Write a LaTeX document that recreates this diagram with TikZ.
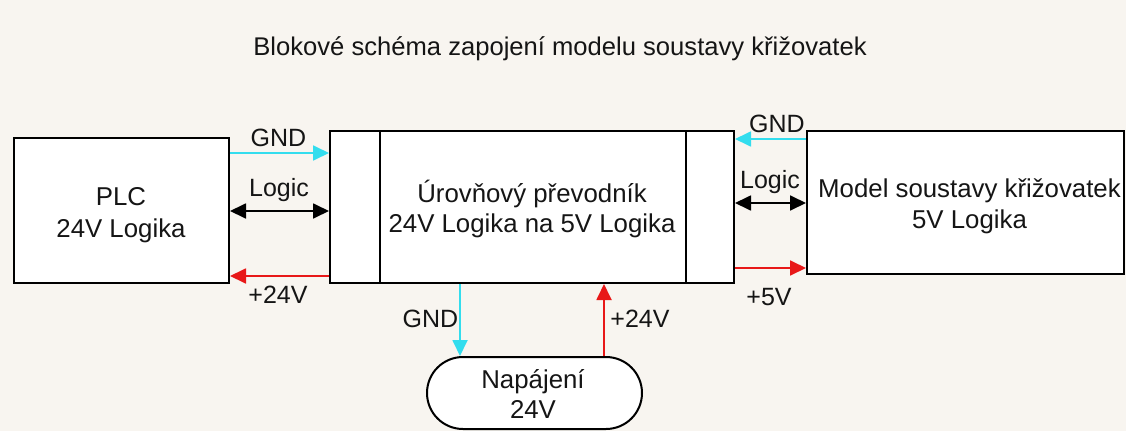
\documentclass[tikz,border=0pt]{standalone}
\usepackage{fontspec}
\setmainfont{Liberation Sans}
\usetikzlibrary{arrows.meta,shapes.misc}

\definecolor{bg}{HTML}{F8F5F0}
\definecolor{gndc}{HTML}{33DDEE}
\definecolor{pwrc}{HTML}{E81818}
\definecolor{txt}{HTML}{151515}

\begin{document}
\begin{tikzpicture}[x=1pt,y=-1pt,
  box/.style={draw=black, line width=2pt, fill=white, inner sep=0pt},
  lbl/.style={anchor=base, font=\fontsize{25}{30}\selectfont, text=txt, inner sep=0pt},
  btxt/.style={lbl, font=\fontsize{25.8}{30}\selectfont},
  wire/.style={line width=1.8pt},
  tipend/.style={-{Triangle[length=16pt,width=15pt]}},
  tipboth/.style={{Triangle[length=16pt,width=15pt]}-{Triangle[length=16pt,width=15pt]}}]

\fill[bg] (0,0) rectangle (1126,431);
\useasboundingbox (0,0) rectangle (1126,431);

% title
\node[lbl, font=\fontsize{25.6}{30}\selectfont] (title) at (560,55) {Blokové schéma zapojení modelu soustavy křižovatek};

% boxes
\node[box, minimum width=215pt, minimum height=145pt] (plc) at (121.5,210.5) {};
\node[box, minimum width=404pt, minimum height=152pt] (conv) at (532,207) {};
\node[box, minimum width=317pt, minimum height=143pt] (model) at (965.5,202.5) {};
\node[box, rounded rectangle, minimum width=215pt, minimum height=72pt] (pwr) at (534.5,393) {};

\draw[line width=2pt] ([xshift=51pt]conv.north west) -- ([xshift=51pt]conv.south west);
\draw[line width=2pt] ([xshift=-49pt]conv.north east) -- ([xshift=-49pt]conv.south east);

% box texts
\node[btxt] (plcA) at (121,205) {PLC};
\node[btxt] (plcB) at (121,237) {24V Logika};
\node[btxt] (convA) at (532,202) {Úrovňový převodník};
\node[btxt] (convB) at (532,232) {24V Logika na 5V Logika};
\node[btxt] (modA) at (969.5,197) {Model soustavy křižovatek};
\node[btxt] (modB) at (969.5,228) {5V Logika};
\node[btxt] (pwrA) at (533,388) {Napájení};
\node[btxt] (pwrB) at (533,418) {24V};

% level coordinates
\coordinate (yGL) at (0,153);
\coordinate (yLL) at (0,211);
\coordinate (yPL) at (0,276);
\coordinate (yGR) at (0,139);
\coordinate (yLR) at (0,203);
\coordinate (yPR) at (0,268);
\coordinate (xGB) at (460,0);
\coordinate (xPB) at (604,0);

% connectors
\draw[wire, gndc, tipend] (plc.east |- yGL) -- (conv.west |- yGL);
\draw[wire, black, tipboth] (plc.east |- yLL) -- (conv.west |- yLL);
\draw[wire, pwrc, tipend] (conv.west |- yPL) -- (plc.east |- yPL);
\draw[wire, gndc, tipend] (model.west |- yGR) -- (conv.east |- yGR);
\draw[wire, black, tipboth] (conv.east |- yLR) -- (model.west |- yLR);
\draw[wire, pwrc, tipend] (conv.east |- yPR) -- (model.west |- yPR);
\draw[wire, gndc, tipend] (conv.south -| xGB) -- (pwr.north -| xGB);
\draw[wire, pwrc, tipend] (pwr.north -| xPB) -- (conv.south -| xPB);

% connector labels
\node[lbl] (lGL) at (278.5,146) {GND};
\node[lbl] (lLL) at (279,196) {Logic};
\node[lbl] (lPL) at (278,303) {+24V};
\node[lbl] (lGR) at (777,132) {GND};
\node[lbl] (lLR) at (770,188) {Logic};
\node[lbl] (lPR) at (769,305) {+5V};
\node[lbl] (lGB) at (430.5,327) {GND};
\node[lbl] (lPB) at (640,327) {+24V};

\end{tikzpicture}
\end{document}
